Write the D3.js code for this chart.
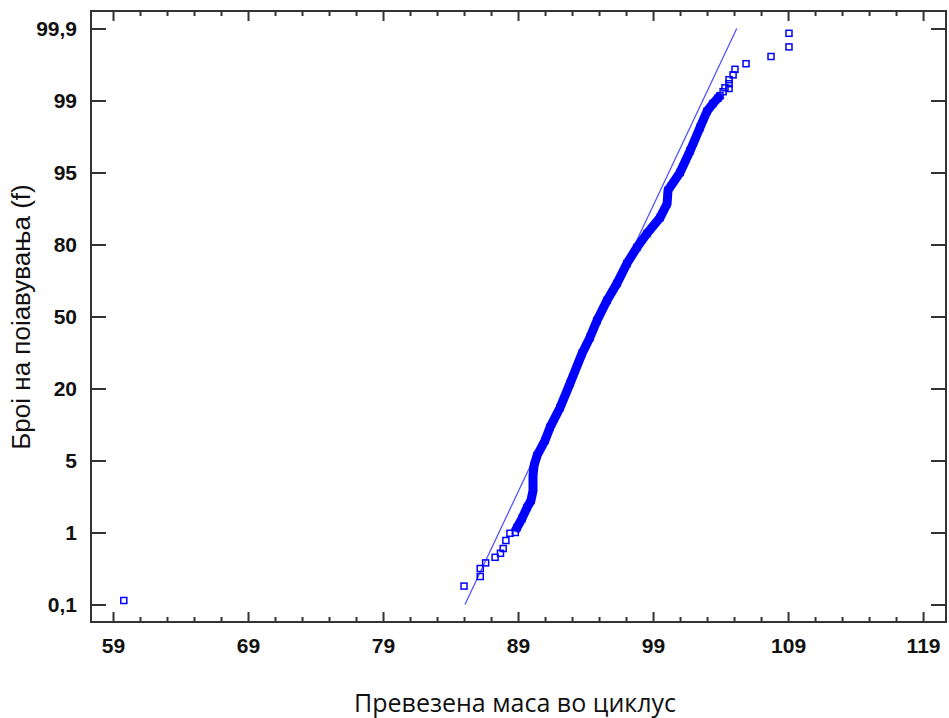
<!DOCTYPE html>
<html>
<head>
<meta charset="utf-8">
<script src="https://cdn.jsdelivr.net/npm/d3@7"></script>
<style>
  body { margin: 0; background: #fff; }
  .tick text { font-family: "Liberation Sans", Arial, sans-serif; font-weight: bold; font-size: 21px; fill: #111; }
</style>
</head>
<body>
<div id="chart"></div>
<script>
// Probability ticks (equally spaced on the chart)
const yTicks = [0.1, 1, 5, 20, 50, 80, 95, 99, 99.9];
const xTicks = [59, 69, 79, 89, 99, 109, 119];
const xMinorTicks = [61, 63, 65, 67, 71, 73, 75, 77, 81, 83, 85, 87, 91, 93, 95, 97, 101, 103, 105, 107, 111, 113, 115, 117];

// Isolated observations (hollow squares)
const outlierX = [59.8, 85.0, 86.2, 86.2, 86.6, 87.3, 87.7, 87.9, 88.1, 88.4, 88.8,
  103.96, 104.19, 104.33, 104.63, 104.63, 104.63, 104.93, 105.07, 105.89, 107.74, 109.07, 109.07];
const outlierP = [0.15, 0.33, 0.45, 0.55, 0.62, 0.69, 0.74, 0.80, 0.90, 0.99, 1.0,
  99.06, 99.11, 99.16, 99.15, 99.21, 99.26, 99.32, 99.39, 99.46, 99.55, 99.67, 99.84];

// Dense body of the sample (overlapping markers)
const denseX = [88.93, 89.30, 89.67, 89.96, 90.11, 90.11, 90.19, 90.41, 91.0, 91.37, 92.11, 92.85,
  93.74, 94.33, 94.85, 95.59, 96.33, 97.07, 97.81, 98.56, 99.52, 100.04, 100.11, 101.0,
  101.74, 102.48, 103.0, 103.44, 103.81];
const denseP = [1.28, 1.78, 2.39, 2.78, 3.33, 4.17, 4.72, 6.04, 9.17, 11.9, 16.0, 22.1,
  34.6, 41.3, 48.3, 56.7, 63.8, 72.1, 78.8, 82.3, 85.6, 88.5, 91.3, 95.0,
  96.2, 97.5, 98.4, 98.83, 99.03];

// Fitted normal line
const fitX = [85.07, 105.2];
const fitP = [0.1, 99.9];

const W = 949, H = 718;
const margin = { top: 11, right: 3, bottom: 96, left: 91 };
const width = W - margin.left - margin.right;
const height = H - margin.top - margin.bottom;

const svg = d3.select('#chart')
  .append('svg')
  .attr('width', W)
  .attr('height', H)
  .append('g')
  .attr('transform', `translate(${margin.left}, ${margin.top})`);

const x = d3.scaleLinear().domain([57.37, 120.7]).range([0, width]);

// probability axis: ticks equally spaced, linear between them
const pad = 17.5;
const step = (height - 2 * pad) / (yTicks.length - 1);
const y = d3.scaleLinear()
  .domain(yTicks)
  .range(yTicks.map((d, i) => height - pad - i * step));

const fmt = (d) => String(d).replace('.', ',');

// Axes, ticks pointing inward
const styleAxis = (g) => {
  g.select('.domain').remove();
  g.selectAll('.tick line').attr('stroke', '#333').attr('stroke-width', 2);
};

svg.append('g')
  .attr('transform', `translate(0, ${height})`)
  .call(d3.axisBottom(x).tickValues(xTicks).tickSize(-10).tickPadding(16))
  .call(styleAxis);
svg.append('g')
  .attr('transform', `translate(0, ${height})`)
  .call(d3.axisBottom(x).tickValues(xMinorTicks).tickSize(-5).tickFormat(''))
  .call(styleAxis);
svg.append('g')
  .call(d3.axisTop(x).tickValues(xTicks).tickSize(-10).tickFormat(''))
  .call(styleAxis);
svg.append('g')
  .call(d3.axisTop(x).tickValues(xMinorTicks).tickSize(-5).tickFormat(''))
  .call(styleAxis);
svg.append('g')
  .call(d3.axisLeft(y).tickValues(yTicks).tickSize(-15).tickPadding(14).tickFormat(fmt))
  .call(styleAxis);
svg.append('g')
  .attr('transform', `translate(${width}, 0)`)
  .call(d3.axisRight(y).tickValues(yTicks).tickSize(-15).tickFormat(''))
  .call(styleAxis);

// Frame
svg.append('rect')
  .attr('width', width)
  .attr('height', height)
  .attr('fill', 'none')
  .attr('stroke', '#333')
  .attr('stroke-width', 2);

// Fit line
svg.append('line')
  .attr('x1', x(fitX[0])).attr('y1', y(fitP[0]))
  .attr('x2', x(fitX[1])).attr('y2', y(fitP[1]))
  .attr('stroke', '#4a4aff')
  .attr('stroke-width', 1.2);

// Dense body
const dense = denseX.map((v, i) => [v, denseP[i]]);
svg.append('path')
  .datum(dense)
  .attr('d', d3.line().x((d) => x(d[0])).y((d) => y(d[1])))
  .attr('fill', 'none')
  .attr('stroke', '#0000ff')
  .attr('stroke-width', 9)
  .attr('stroke-linejoin', 'round')
  .attr('stroke-linecap', 'square');

const sq = 6;
svg.selectAll('rect.dense')
  .data(dense)
  .join('rect')
  .attr('class', 'dense')
  .attr('x', (d) => x(d[0]) - sq / 2)
  .attr('y', (d) => y(d[1]) - sq / 2)
  .attr('width', sq)
  .attr('height', sq)
  .attr('fill', '#0000ff')
  .attr('stroke', '#0000ff')
  .attr('stroke-width', 1.5);

// Isolated points
svg.selectAll('rect.pt')
  .data(outlierX.map((v, i) => [v, outlierP[i]]))
  .join('rect')
  .attr('class', 'pt')
  .attr('x', (d) => x(d[0]) - sq / 2)
  .attr('y', (d) => y(d[1]) - sq / 2)
  .attr('width', sq)
  .attr('height', sq)
  .attr('fill', 'none')
  .attr('stroke', '#0000ff')
  .attr('stroke-width', 1.5);

// Axis titles
svg.append('text')
  .attr('x', 515 - margin.left)
  .attr('y', height + 90)
  .attr('text-anchor', 'middle')
  .attr('font-family', '"Open Sans", "Noto Sans", sans-serif')
  .attr('font-size', 25)
  .attr('fill', '#111')
  .text('Превезена маса во циклус');

svg.append('text')
  .attr('transform', `translate(${30 - margin.left}, ${317 - margin.top}) rotate(-90)`)
  .attr('text-anchor', 'middle')
  .attr('font-family', '"Liberation Sans", Arial, sans-serif')
  .attr('font-size', 26)
  .attr('fill', '#111')
  .text('Броі на поіавувања (f)');
</script>
</body>
</html>
